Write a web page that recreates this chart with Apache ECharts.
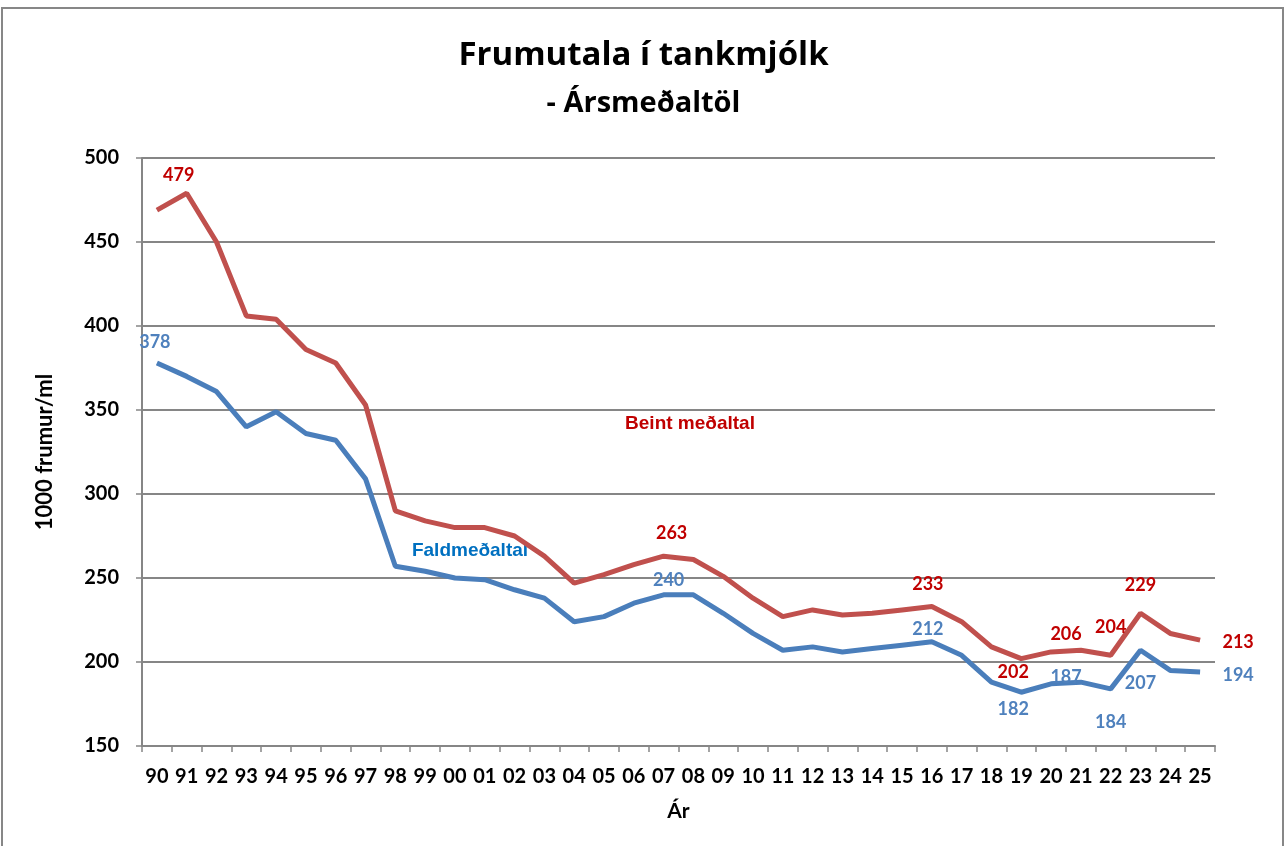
<!DOCTYPE html>
<html>
<head>
<meta charset="utf-8">
<script src="https://cdn.jsdelivr.net/npm/echarts@6/dist/echarts.min.js"></script>
<style>
html,body{margin:0;padding:0;background:#fff;}
#c{width:1287px;height:846px;}
</style>
</head>
<body>
<div id="c"></div>
<script>
const years = ['90','91','92','93','94','95','96','97','98','99','00','01','02','03','04','05','06','07','08','09','10','11','12','13','14','15','16','17','18','19','20','21','22','23','24','25'];
const beint = [469,479,450,406,404,386,378,353,290,284,280,280,275,263,247,252,258,263,261,251,238,227,231,228,229,231,233,224,209,202,206,207,204,229,217,213];
const fald  = [378,370,361,340,349,336,332,309,257,254,250,249,243,238,224,227,235,240,240,229,217,207,209,206,208,210,212,204,188,182,187,188,184,207,195,194];
// labelled points: index -> [dx, dy] offsets
const beintLabels = {1:[-8,-4], 17:[8,-9], 26:[-4,-8], 29:[-8,28], 30:[15,-4], 32:[0,-14], 33:[0,-14], 35:[38,16]};
const faldLabels  = {0:[-2,-7], 17:[5,-1], 26:[-4,1], 29:[-8,31], 30:[15,7], 32:[0,47], 33:[0,47], 35:[38,17]};
const yTicks = {min:150, max:500, interval:50};

const FONT = 'Lato';
function mkData(vals, labels, color){
  return vals.map((v,i)=>{
    if(labels[i]){
      return {value:v, label:{show:true, position:'top', offset:labels[i], color:color, fontFamily:FONT, fontWeight:'bold', fontSize:18, formatter:'{c}'}};
    }
    return v;
  });
}

const chart = echarts.init(document.getElementById('c'), null, {renderer:'canvas'});
chart.setOption({
  backgroundColor:'#fff',
  animation:false,
  title:[
    {text:'Frumutala í tankmjólk', left:'center', top:34, textStyle:{fontFamily:'Open Sans', fontWeight:'bold', fontSize:33, color:'#000'}},
    {text:'- Ársmeðaltöl', left:'center', top:84, textStyle:{fontFamily:'Open Sans', fontWeight:'bold', fontSize:29, color:'#000'}}
  ],
  grid:{left:142, right:72, top:158, bottom:100},
  xAxis:{
    type:'category', data:years, boundaryGap:true,
    name:'Ár', nameLocation:'middle', nameGap:55,
    nameTextStyle:{fontFamily:FONT, fontWeight:'bold', fontSize:21, color:'#000'},
    axisLine:{lineStyle:{color:'#868686', width:2}},
    axisTick:{show:true, alignWithLabel:false, length:6, lineStyle:{color:'#868686', width:1.5}},
    axisLabel:{fontFamily:FONT, fontWeight:'bold', fontSize:20, color:'#000', margin:21, interval:0}
  },
  yAxis:{
    type:'value', min:yTicks.min, max:yTicks.max, interval:yTicks.interval,
    name:'1000 frumur/ml', nameLocation:'middle', nameGap:86, nameRotate:90,
    nameTextStyle:{fontFamily:FONT, fontWeight:'bold', fontSize:22, color:'#000'},
    axisLine:{show:true, lineStyle:{color:'#868686', width:2}},
    axisTick:{show:true, length:6, lineStyle:{color:'#868686', width:1.5}},
    axisLabel:{fontFamily:FONT, fontWeight:'bold', fontSize:20, color:'#000', margin:23},
    splitLine:{lineStyle:{color:'#868686', width:2}}
  },
  series:[
    {name:'Beint meðaltal', type:'line', data:mkData(beint, beintLabels, '#C00000'), symbol:'circle', symbolSize:0, showSymbol:true, lineStyle:{color:'#C0504D', width:5}, itemStyle:{color:'#C0504D'}, z:3},
    {name:'Faldmeðaltal', type:'line', data:mkData(fald, faldLabels, '#4F81BD'), symbol:'circle', symbolSize:0, showSymbol:true, lineStyle:{color:'#4A7EBB', width:5}, itemStyle:{color:'#4A7EBB'}, z:4}
  ],
  graphic:[
    {type:'rect', shape:{x:2, y:8, width:1281, height:845}, style:{fill:'none', stroke:'#878787', lineWidth:2}, silent:true},
    {type:'text', x:690, y:424, style:{text:'Beint meðaltal', fill:'#C00000', font:'bold 19px "Liberation Sans"', textAlign:'center', textVerticalAlign:'middle'}},
    {type:'text', x:470, y:551, style:{text:'Faldmeðaltal', fill:'#0070C0', font:'bold 19px "Liberation Sans"', textAlign:'center', textVerticalAlign:'middle'}}
  ]
});
</script>
</body>
</html>
